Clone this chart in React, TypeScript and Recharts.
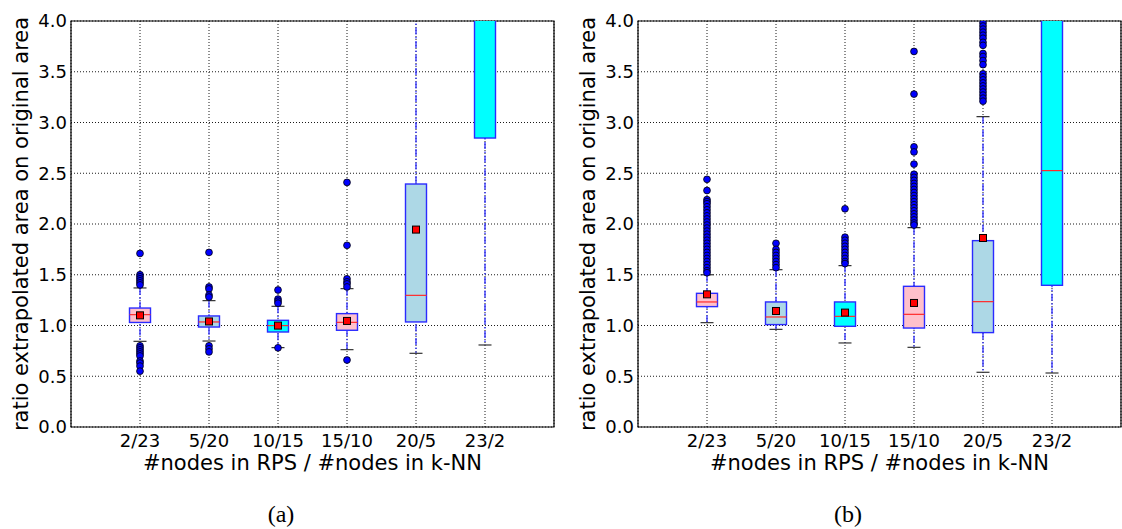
import React from "react";
import {
  ComposedChart,
  Bar,
  Scatter,
  XAxis,
  YAxis,
  CartesianGrid,
  ReferenceArea,
  Label,
} from "recharts";

// categories and shared styling lists
const categories = ["2/23", "5/20", "10/15", "15/10", "20/5", "23/2"];
const boxFills = ["pink", "lightblue", "cyan", "pink", "lightblue", "cyan"];
const yTicks = [0, 0.5, 1, 1.5, 2, 2.5, 3, 3.5, 4];

// panel (a) statistics (values above 4.0 are off the chart)
const q1A = [1.03, 0.985, 0.936, 0.953, 1.035, 2.847];
const medianA = [1.107, 1.035, 0.999, 1.031, 1.297, null];
const q3A = [1.172, 1.094, 1.051, 1.117, 2.394, 5.0];
const whiskerLoA = [0.844, 0.847, 0.782, 0.762, 0.726, 0.808];
const whiskerHiA = [1.37, 1.245, 1.189, 1.363, 4.6, 6.0];
const meanA = [1.1, 1.04, 0.999, 1.045, 1.945, null];
const fliersA = [
  [1.71, 1.5, 1.48, 1.46, 1.44, 1.42, 1.4, 0.8, 0.78, 0.76, 0.74, 0.72, 0.7, 0.65, 0.63, 0.6, 0.55],
  [1.72, 1.38, 1.36, 1.3, 1.28, 0.8, 0.77, 0.74],
  [1.35, 1.26, 1.24, 1.22, 0.78],
  [2.41, 1.79, 1.46, 1.43, 1.41, 1.38, 0.66],
  [],
  [],
];

// panel (b) statistics
const q1B = [1.186, 1.009, 0.992, 0.975, 0.93, 1.396];
const medianB = [1.232, 1.084, 1.09, 1.11, 1.235, 2.526];
const q3B = [1.317, 1.232, 1.232, 1.386, 1.836, 5.0];
const whiskerLoB = [1.028, 0.962, 0.828, 0.785, 0.539, 0.532];
const whiskerHiB = [1.5, 1.55, 1.59, 1.964, 3.058, 6.5];
const meanB = [1.307, 1.143, 1.127, 1.222, 1.862, null];
const fliersB = [
  [2.44, 2.33, 2.24, 2.22, 2.2, 2.17, 2.14, 2.11, 2.08, 2.05, 2.02, 1.99, 1.96, 1.93, 1.9, 1.87, 1.84, 1.81, 1.78, 1.75, 1.72, 1.69, 1.66, 1.63, 1.6, 1.57, 1.54, 1.52],
  [1.81, 1.75, 1.72, 1.69, 1.66, 1.63, 1.6, 1.57],
  [2.15, 1.87, 1.84, 1.81, 1.78, 1.75, 1.72, 1.69, 1.66, 1.63, 1.61],
  [3.7, 3.28, 2.76, 2.71, 2.59, 2.49, 2.46, 2.43, 2.4, 2.37, 2.34, 2.31, 2.28, 2.25, 2.22, 2.19, 2.16, 2.13, 2.1, 2.07, 2.04, 2.01, 1.99],
  [3.98, 3.95, 3.92, 3.89, 3.86, 3.83, 3.79, 3.76, 3.68, 3.65, 3.61, 3.57, 3.48, 3.45, 3.42, 3.39, 3.36, 3.33, 3.3, 3.27, 3.24, 3.21],
  [],
];

const FONT = "DejaVu Sans";
const BOX_W = 21;

const WhiskerShape = (props: any) => {
  const { x, y, width, height } = props;
  const cx = x + width / 2;
  return (
    <g>
      <line x1={cx} x2={cx} y1={y} y2={y + height} stroke="#2a2aff" strokeWidth={1.3} strokeDasharray="7 2.5 1.5 2.5" />
      <line x1={cx - 6.5} x2={cx + 6.5} y1={y} y2={y} stroke="#333" strokeWidth={1.2} />
      <line x1={cx - 6.5} x2={cx + 6.5} y1={y + height} y2={y + height} stroke="#333" strokeWidth={1.2} />
    </g>
  );
};

const BoxShape = (props: any) => {
  const { x, y, width, height, payload } = props;
  return <rect x={x} y={y} width={width} height={height} fill={payload.fill} stroke="#2b2bff" strokeWidth={1.4} />;
};

const MedianShape = (props: any) => {
  const { cx, cy } = props;
  return <line x1={cx - BOX_W / 2} x2={cx + BOX_W / 2} y1={cy} y2={cy} stroke="#ff2a2a" strokeWidth={1.2} />;
};

const MeanShape = (props: any) => {
  const { cx, cy } = props;
  return <rect x={cx - 3.5} y={cy - 3.5} width={7} height={7} fill="#ff0000" stroke="#000" strokeWidth={1} />;
};

const FlierShape = (props: any) => {
  const { cx, cy } = props;
  return <circle cx={cx} cy={cy} r={3.4} fill="#0000ff" stroke="#000" strokeWidth={0.8} />;
};

interface PanelProps {
  q1: number[];
  median: (number | null)[];
  q3: number[];
  lo: number[];
  hi: number[];
  mean: (number | null)[];
  fliers: number[][];
  caption: string;
  left: number;
  width: number;
  rightMargin: number;
}

const toPoints = (vals: (number | null)[]) =>
  vals.flatMap((v, i) => (v == null ? [] : [{ x: i + 1, y: v }]));

function BoxPanel(p: PanelProps) {
  const rows = categories.map((label, i) => ({
    label,
    lo: p.lo[i],
    q1: p.q1[i],
    q3: p.q3[i],
    hi: p.hi[i],
    fill: boxFills[i],
  }));
  const medianPts = toPoints(p.median);
  const meanPts = toPoints(p.mean);
  const flierPts = p.fliers.flatMap((list, i) => list.map((v) => ({ x: i + 1, y: v })));
  const pad = { left: 34.5, right: 34.5 };

  return (
    <div style={{ position: "absolute", left: p.left, top: 0, width: p.width, height: 529 }}>
      <ComposedChart
        width={p.width}
        height={529}
        data={rows}
        margin={{ top: 21, right: p.rightMargin, bottom: 52, left: 0 }}
      >
        <XAxis
          dataKey="label"
          padding={pad}
          tickLine={false}
          axisLine={false}
          tickSize={0}
          tickMargin={7}
          height={50}
          tick={{ fill: "#000", fontSize: 18, fontFamily: FONT }}
        >
          <Label
            value="#nodes in RPS / #nodes in k-NN"
            position="insideTop"
            offset={28}
            style={{ fill: "#000", fontSize: 21, fontFamily: FONT }}
          />
        </XAxis>
        <XAxis xAxisId="box" dataKey="label" padding={pad} hide />
        <XAxis xAxisId="num" type="number" dataKey="x" domain={[0, 7]} allowDataOverflow hide />
        <YAxis
          domain={[0, 4]}
          ticks={yTicks}
          allowDataOverflow
          width={71}
          tickLine={false}
          axisLine={false}
          tickSize={0}
          tickMargin={4}
          tickFormatter={(v: number) => v.toFixed(1)}
          tick={{ fill: "#000", fontSize: 18, fontFamily: FONT }}
        >
          <Label
            value="ratio extrapolated area on original area"
            angle={-90}
            position="insideLeft"
            offset={21}
            style={{ fill: "#000", fontSize: 21, fontFamily: FONT, textAnchor: "middle" }}
          />
        </YAxis>
        <Bar dataKey={(d: any) => [d.lo, d.hi]} barSize={BOX_W} shape={WhiskerShape} isAnimationActive={false} />
        <Bar xAxisId="box" dataKey={(d: any) => [d.q1, d.q3]} barSize={BOX_W} shape={BoxShape} isAnimationActive={false} />
        <Scatter xAxisId="num" data={medianPts} dataKey="y" shape={MedianShape} isAnimationActive={false} />
        <Scatter xAxisId="num" data={meanPts} dataKey="y" shape={MeanShape} isAnimationActive={false} />
        <Scatter xAxisId="num" data={flierPts} dataKey="y" shape={FlierShape} isAnimationActive={false} />
        <CartesianGrid stroke="#000" strokeWidth={0.9} strokeDasharray="1 2" />
        <ReferenceArea xAxisId="num" x1={0} x2={7} y1={0} y2={4} fill="none" stroke="#000" strokeWidth={1.2} />
      </ComposedChart>
      <div
        style={{
          position: "absolute",
          left: 251,
          width: 60,
          top: 502,
          textAlign: "center",
          fontFamily: "Liberation Serif",
          fontSize: 24,
          lineHeight: "24px",
        }}
      >
        {p.caption}
      </div>
    </div>
  );
}

export default function App() {
  return (
    <div style={{ position: "absolute", left: 0, top: 0, width: 1122, height: 529, background: "#fff", overflow: "hidden" }}>
      <BoxPanel
        q1={q1A}
        median={medianA}
        q3={q3A}
        lo={whiskerLoA}
        hi={whiskerHiA}
        mean={meanA}
        fliers={fliersA}
        caption="(a)"
        left={0}
        width={560}
        rightMargin={6}
      />
      <BoxPanel
        q1={q1B}
        median={medianB}
        q3={q3B}
        lo={whiskerLoB}
        hi={whiskerHiB}
        mean={meanB}
        fliers={fliersB}
        caption="(b)"
        left={567}
        width={555}
        rightMargin={1}
      />
    </div>
  );
}
